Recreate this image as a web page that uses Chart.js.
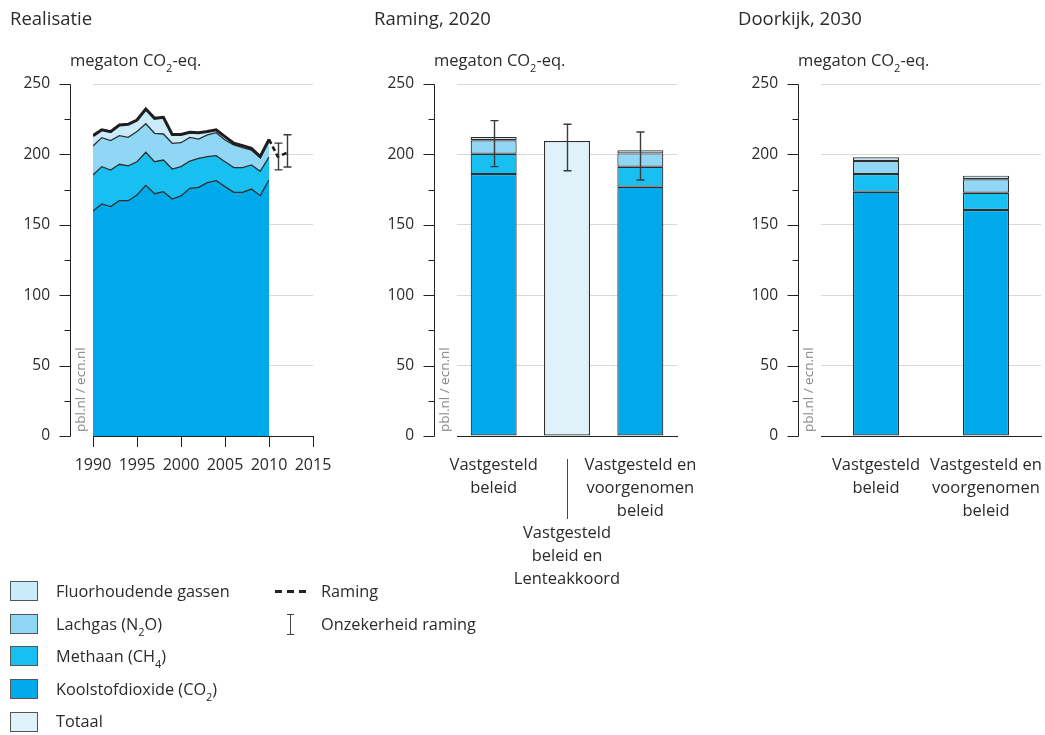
<!DOCTYPE html>
<html><head><meta charset="utf-8">
<script src="https://cdn.jsdelivr.net/npm/chart.js@4.4.1/dist/chart.umd.min.js"></script>
<style>
html,body{margin:0;padding:0;background:#fff;}
#wrap{position:relative;width:1045px;height:735px;overflow:hidden;font-family:"Open Sans",sans-serif;color:#2b2b2b;}
canvas{position:absolute;top:0;}
.t{position:absolute;white-space:nowrap;line-height:20px;}
.title{font-size:18.5px;}
.unit{font-size:16.5px;}
.leg{font-size:16.3px;}
sub{font-size:11px;vertical-align:-6px;line-height:0;}
.src{position:absolute;font-size:13.5px;color:#8a8a8a;transform:rotate(-90deg);transform-origin:left top;white-space:nowrap;line-height:14px;}
.sw{position:absolute;left:10px;width:28px;height:20px;border:1px solid #555;box-sizing:border-box;}
.blk{position:absolute;background:#222;}
</style></head>
<body>
<div id="wrap">
  <canvas id="c1" width="364" height="735" style="left:0"></canvas>
  <canvas id="c2" width="364" height="735" style="left:364px"></canvas>
  <canvas id="c3" width="317" height="735" style="left:728px"></canvas>

  <div class="t title" style="left:10px;top:8px">Realisatie</div>
  <div class="t title" style="left:374px;top:8px">Raming, 2020</div>
  <div class="t title" style="left:738px;top:8px">Doorkijk, 2030</div>

  <div class="t unit" style="left:70px;top:50px">megaton CO<sub>2</sub>-eq.</div>
  <div class="t unit" style="left:434px;top:50px">megaton CO<sub>2</sub>-eq.</div>
  <div class="t unit" style="left:798px;top:50px">megaton CO<sub>2</sub>-eq.</div>

  <div class="src" style="left:73px;top:432px">pbl.nl / ecn.nl</div>
  <div class="src" style="left:437px;top:432px">pbl.nl / ecn.nl</div>
  <div class="src" style="left:801px;top:432px">pbl.nl / ecn.nl</div>

  <!-- legend -->
  <div class="sw" style="top:581px;background:#c9ebfa"></div>
  <div class="t leg" style="left:56px;top:581px">Fluorhoudende gassen</div>
  <div class="sw" style="top:614px;background:#8fd7f5"></div>
  <div class="t leg" style="left:56px;top:614px">Lachgas (N<sub>2</sub>O)</div>
  <div class="sw" style="top:646px;background:#18c0f1"></div>
  <div class="t leg" style="left:56px;top:646px">Methaan (CH<sub>4</sub>)</div>
  <div class="sw" style="top:679px;background:#00a9e9"></div>
  <div class="t leg" style="left:56px;top:679px">Koolstofdioxide (CO<sub>2</sub>)</div>
  <div class="sw" style="top:712px;background:#dff2fa"></div>
  <div class="t leg" style="left:56px;top:711px">Totaal</div>

  <div class="blk" style="left:275px;top:590px;width:7px;height:3px"></div>
  <div class="blk" style="left:287px;top:590px;width:7px;height:3px"></div>
  <div class="blk" style="left:299px;top:590px;width:7px;height:3px"></div>
  <div class="t leg" style="left:321px;top:581px">Raming</div>
  <div class="blk" style="left:290px;top:614px;width:1px;height:21px;background:#444"></div>
  <div class="blk" style="left:287px;top:614px;width:7px;height:1px;background:#444"></div>
  <div class="blk" style="left:287px;top:634px;width:7px;height:1px;background:#444"></div>
  <div class="t leg" style="left:321px;top:614px">Onzekerheid raming</div>
</div>

<script>
// ---------- DATA ----------
const years = [1990,1991,1992,1993,1994,1995,1996,1997,1998,1999,2000,2001,2002,2003,2004,2005,2006,2007,2008,2009,2010];
const co2  = [159.8,164.8,162.9,167.1,167.1,171.2,178.0,172.1,173.5,168.3,170.5,175.9,176.6,179.9,181.3,177.1,173.1,173.1,175.4,170.7,181.8];
const ch4  = [25.6,26.5,26.0,25.9,24.7,23.6,23.5,22.7,22.5,21.3,20.8,19.4,20.6,18.5,17.8,17.7,17.5,17.5,17.1,17.3,16.2];
const n2o  = [20.6,20.6,20.9,20.3,20.3,21.4,20.3,20.2,18.5,18.3,17.0,16.8,13.7,15.4,16.3,15.4,16.1,14.2,10.6,9.7,11.5];
const fgas = [7.3,5.6,6.3,7.6,9.3,8.2,10.4,10.6,11.8,6.3,5.9,3.6,4.5,2.4,2.1,2.4,1.2,1.4,1.2,0.7,1.2];
const total = [213.3,217.5,216.1,220.9,221.4,224.4,232.2,225.6,226.3,214.2,214.2,215.7,215.4,216.2,217.5,212.6,207.9,206.2,204.3,198.4,210.7];
const ramingYears = [2010,2011,2012];
const ramingVals  = [210.7,198.4,201.0];
const errYears = [2011,2012];
const errLow   = [189.0,191.0];
const errHigh  = [208.0,214.0];
const xTicks = [1990,1995,2000,2005,2010,2015];

const cat2020 = [['Vastgesteld','beleid'],['Vastgesteld','beleid en','Lenteakkoord'],['Vastgesteld en','voorgenomen','beleid']];
const co2_2020 = [186.0,null,177.0];
const ch4_2020 = [14.5,null,14.2];
const n2o_2020 = [9.5,null,9.5];
const f_2020   = [2.4,null,2.3];
const tot_2020 = [null,209.5,null];
const err2020Low  = [191.3,188.4,181.8];
const err2020High = [224.0,221.4,215.9];

const cat2030 = [['Vastgesteld','beleid'],['Vastgesteld en','voorgenomen','beleid']];
const co2_2030 = [173.5,160.5];
const ch4_2030 = [12.6,12.3];
const n2o_2030 = [9.2,9.5];
const f_2030   = [2.6,2.6];

const yTicks = [0,50,100,150,200,250];

// ---------- STYLE ----------
const FONT = '"Open Sans", sans-serif';
const TXT = '#2b2b2b';
const C = {co2:'#00a9e9', ch4:'#18c0f1', n2o:'#8fd7f5', f:'#c9ebfa', tot:'#dff2fa'};
const PLOT_L = 93, PLOT_R = 313, PLOT_T = 84, PLOT_B = 436, XH = 45;

const yAxisPlugin = {
  id:'yaxisline',
  afterDraw(chart){
    const s = chart.scales.y, ctx = chart.ctx;
    const x = chart.chartArea.left - 23 + 0.5;
    ctx.save();
    ctx.strokeStyle = '#222'; ctx.lineWidth = 1;
    ctx.beginPath();
    ctx.moveTo(x, Math.round(s.getPixelForValue(250))+0.5);
    ctx.lineTo(x, Math.round(s.getPixelForValue(0))+0.5);
    for (let v=0; v<=250; v+=25){
      const y = Math.round(s.getPixelForValue(v))+0.5;
      const len = (v%50===0)?11:6;
      ctx.moveTo(x-len, y); ctx.lineTo(x, y);
    }
    ctx.stroke();
    ctx.restore();
  }
};

const errLinePlugin = {
  id:'errline',
  afterDatasetsDraw(chart){
    const xs = chart.scales.x, ys = chart.scales.y, ctx = chart.ctx;
    ctx.save(); ctx.strokeStyle = '#3a3a3a'; ctx.lineWidth = 1.4;
    errYears.forEach((yr,i)=>{
      const x = Math.round(xs.getPixelForValue(yr))+0.5;
      const y1 = ys.getPixelForValue(errLow[i]), y2 = ys.getPixelForValue(errHigh[i]);
      ctx.beginPath();
      ctx.moveTo(x,y1); ctx.lineTo(x,y2);
      ctx.moveTo(x-4,y1); ctx.lineTo(x+4,y1);
      ctx.moveTo(x-4,y2); ctx.lineTo(x+4,y2);
      ctx.stroke();
    });
    ctx.restore();
  }
};

function makeErrBarPlugin(lo, hi){
  return {
    id:'errbar',
    afterDatasetsDraw(chart){
      const xs = chart.scales.x, ys = chart.scales.y, ctx = chart.ctx;
      ctx.save(); ctx.strokeStyle = '#3a3a3a'; ctx.lineWidth = 1.4;
      lo.forEach((l,i)=>{
        const x = Math.round(xs.getPixelForValue(i))+0.5;
        const y1 = ys.getPixelForValue(l), y2 = ys.getPixelForValue(hi[i]);
        ctx.beginPath();
        ctx.moveTo(x,y1); ctx.lineTo(x,y2);
        ctx.moveTo(x-4,y1); ctx.lineTo(x+4,y1);
        ctx.moveTo(x-4,y2); ctx.lineTo(x+4,y2);
        ctx.stroke();
      });
      ctx.restore();
    }
  };
}

function makeCatPlugin(cats, startY, connector){
  return {
    id:'catlabels',
    afterDraw(chart){
      const xs = chart.scales.x, ctx = chart.ctx;
      ctx.save();
      ctx.fillStyle = TXT; ctx.font = '16.5px ' + FONT;
      ctx.textAlign = 'center'; ctx.textBaseline = 'middle';
      cats.forEach((lines,i)=>{
        const x = xs.getPixelForValue(i);
        lines.forEach((ln,k)=> ctx.fillText(ln, x, startY[i] + k*23));
        if (connector && connector[i]){
          ctx.strokeStyle = '#444'; ctx.lineWidth = 1;
          ctx.beginPath();
          ctx.moveTo(Math.round(x)+0.5, connector[i][0]);
          ctx.lineTo(Math.round(x)+0.5, connector[i][1]);
          ctx.stroke();
        }
      });
      ctx.restore();
    }
  };
}

function yScale(){
  return {
    stacked:true, min:0, max:250,
    afterFit(s){ s.width = PLOT_L; },
    afterBuildTicks(s){ s.ticks = yTicks.map(v=>({value:v})); },
    ticks:{ padding:43, color:TXT, font:{family:FONT,size:15.5}, callback:v=>String(v) },
    grid:{ drawTicks:false, lineWidth:1, color:c => (c.tick && c.tick.value===0) ? 'rgba(0,0,0,0)' : '#d9d9d9' },
    border:{ display:false }
  };
}

function layout(w){
  return { padding:{ left:0, top:PLOT_T, right:w-PLOT_R, bottom:735-PLOT_B-XH } };
}

const common = { responsive:false, animation:false, devicePixelRatio:1,
  plugins:{ legend:{display:false}, tooltip:{enabled:false} } };

// ---------- Chart 1: Realisatie ----------
const pts = arr => years.map((y,i)=>({x:y, y:arr[i]}));
const lineDs = (label, arr, color, fill) => ({
  label, data:pts(arr), backgroundColor:color, borderColor:'#2e2e2e', borderWidth:1.3,
  fill, pointRadius:0, tension:0, order:1
});
new Chart(document.getElementById('c1'), {
  type:'line',
  data:{ datasets:[
    lineDs('Koolstofdioxide (CO2)', co2, C.co2, 'origin'),
    lineDs('Methaan (CH4)', ch4, C.ch4, '-1'),
    lineDs('Lachgas (N2O)', n2o, C.n2o, '-1'),
    lineDs('Fluorhoudende gassen', fgas, C.f, '-1'),
    { label:'Totaal', data:pts(total), stack:'tot', borderColor:'#1e1e1e', borderWidth:3, fill:false, pointRadius:0, tension:0, order:0 },
    { label:'Raming', data:ramingYears.map((y,i)=>({x:y,y:ramingVals[i]})), stack:'ram', borderColor:'#1e1e1e', borderWidth:2.6, borderDash:[5,3], fill:false, pointRadius:0, tension:0, order:0 }
  ]},
  options:{ ...common, layout:layout(364),
    scales:{
      x:{ type:'linear', min:1990, max:2015,
        afterFit(s){ s.height = XH; },
        afterBuildTicks(s){ s.ticks = xTicks.map(v=>({value:v})); },
        ticks:{ padding:9, color:TXT, font:{family:FONT,size:16}, callback:v=>String(v), maxRotation:0 },
        grid:{ drawOnChartArea:false, drawTicks:true, tickLength:11, tickColor:'#222' },
        border:{ display:true, color:'#222', width:1 } },
      y: yScale()
    }
  },
  plugins:[yAxisPlugin, errLinePlugin]
});

// ---------- bar charts ----------
function barDs(label, arr, color){
  return { label, data:arr, backgroundColor:color, borderColor:'#2e2e2e', borderWidth:1.2, borderSkipped:false };
}
function barOptions(w, pct){
  return { ...common, layout:layout(w),
    datasets:{ bar:{ barPercentage:pct, categoryPercentage:1 } },
    scales:{
      x:{ type:'category', stacked:true, offset:true,
        afterFit(s){ s.height = XH; },
        ticks:{ display:false },
        grid:{ display:false },
        border:{ display:true, color:'#222', width:1 } },
      y: yScale()
    }
  };
}

new Chart(document.getElementById('c2'), {
  type:'bar',
  data:{ labels:cat2020.map(c=>c.join(' ')), datasets:[
    barDs('Koolstofdioxide (CO2)', co2_2020, C.co2),
    barDs('Methaan (CH4)', ch4_2020, C.ch4),
    barDs('Lachgas (N2O)', n2o_2020, C.n2o),
    barDs('Fluorhoudende gassen', f_2020, C.f),
    barDs('Totaal', tot_2020, C.tot)
  ]},
  options: barOptions(364, 0.627),
  plugins:[yAxisPlugin, makeErrBarPlugin(err2020Low, err2020High),
    makeCatPlugin(cat2020, [465, 533, 465], [null, [459, 519], null])]
});

new Chart(document.getElementById('c3'), {
  type:'bar',
  data:{ labels:cat2030.map(c=>c.join(' ')), datasets:[
    barDs('Koolstofdioxide (CO2)', co2_2030, C.co2),
    barDs('Methaan (CH4)', ch4_2030, C.ch4),
    barDs('Lachgas (N2O)', n2o_2030, C.n2o),
    barDs('Fluorhoudende gassen', f_2030, C.f)
  ]},
  options: barOptions(317, 0.418),
  plugins:[yAxisPlugin, makeCatPlugin(cat2030, [465, 465], null)]
});
</script>
</body></html>
